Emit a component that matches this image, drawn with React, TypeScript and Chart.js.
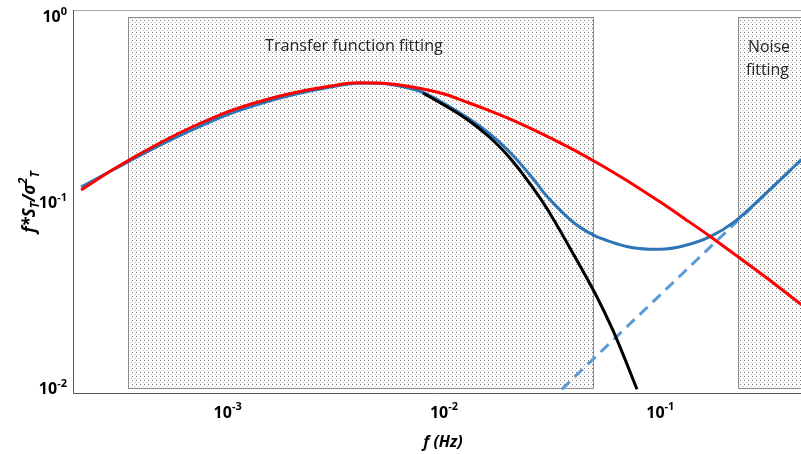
import React, { useEffect, useRef } from "react";
import { Chart, registerables } from "chart.js";

Chart.register(...registerables);

// ---- Data ----
const freqs = [2.1e-4, 3e-4, 5e-4, 7e-4, 1e-3, 1.5e-3, 2e-3, 3e-3, 4e-3, 5e-3, 6e-3, 8e-3, 0.01, 0.013, 0.016, 0.02, 0.025, 0.03, 0.04, 0.05, 0.06, 0.07, 0.08, 0.1, 0.13, 0.17, 0.22, 0.3, 0.45];
const redValues = [0.1167, 0.1524, 0.2128, 0.2578, 0.3074, 0.357, 0.3883, 0.4235, 0.4398, 0.4385, 0.4304, 0.4076, 0.3831, 0.3439, 0.3138, 0.2822, 0.2508, 0.2266, 0.1911, 0.1655, 0.1464, 0.1313, 0.119, 0.1005, 0.0816, 0.0657, 0.0528, 0.0405, 0.0282];
const blueValues = [0.1212, 0.1514, 0.2063, 0.2484, 0.2972, 0.3469, 0.3793, 0.4178, 0.4374, 0.4379, 0.4266, 0.3903, 0.3405, 0.2829, 0.2378, 0.188, 0.1405, 0.1077, 0.0776, 0.0661, 0.0611, 0.058, 0.0566, 0.056, 0.0587, 0.0655, 0.0787, 0.109, 0.1703];
const blackFreqs = [0.008, 0.01, 0.013, 0.016, 0.02, 0.025, 0.03, 0.04, 0.05, 0.06, 0.07, 0.078];
const blackValues = [0.388, 0.3343, 0.276, 0.2278, 0.1757, 0.1258, 0.0923, 0.0519, 0.0324, 0.0209, 0.0136, 0.0099];
const noiseFreqs = [0.035, 0.05, 0.07, 0.1, 0.13, 0.17, 0.22, 0.3, 0.45];
const noiseValues = [0.0099, 0.01473, 0.02144, 0.0319, 0.0427, 0.0576, 0.0767, 0.1083, 0.1703];

const xTickValues = [1e-3, 1e-2, 1e-1];
const xTickExps = ["-3", "-2", "-1"];
const yTickValues = [1, 0.1, 0.01];
const yTickExps = ["0", "-1", "-2"];

const regionNames = [["Transfer function fitting"], ["Noise", "fitting"]];
const regionFrom = [3.46e-4, 0.2286];
const regionTo = [0.0489, 1];
const regionLow = 0.0101;
const regionHigh = 0.99;

const FONT = '"Open Sans", "DejaVu Sans", sans-serif';

type Seg = { t: string; k: "n" | "sup" | "sub" };

function drawRich(ctx: CanvasRenderingContext2D, segs: Seg[], x: number, y: number, size: number, style: string, align: "left" | "center" | "right") {
  const small = Math.round(size * 0.68);
  let w = 0;
  const parts = segs.map((s) => {
    const fs = s.k === "n" ? size : small;
    ctx.font = `${style} ${fs}px ${FONT}`;
    const mw = ctx.measureText(s.t).width;
    w += mw;
    return { ...s, fs, mw };
  });
  let cx = align === "center" ? x - w / 2 : align === "right" ? x - w : x;
  ctx.textAlign = "left";
  ctx.textBaseline = "middle";
  parts.forEach((p) => {
    ctx.font = `${style} ${p.fs}px ${FONT}`;
    const dy = p.k === "sup" ? -size * 0.36 : p.k === "sub" ? size * 0.3 : 0;
    ctx.fillText(p.t, cx, y + dy);
    cx += p.mw;
  });
}

function makePattern(ctx: CanvasRenderingContext2D) {
  const c = document.createElement("canvas");
  c.width = 4;
  c.height = 4;
  const p = c.getContext("2d")!;
  p.fillStyle = "#ffffff";
  p.fillRect(0, 0, 4, 4);
  p.fillStyle = "rgb(218,218,218)";
  p.fillRect(2, 2, 2, 1);
  p.fillStyle = "rgb(120,120,120)";
  p.fillRect(0, 0, 1, 1);
  return ctx.createPattern(c, "repeat")!;
}

function fitFont(ctx: CanvasRenderingContext2D, text: string, target: number) {
  ctx.font = `16px ${FONT}`;
  const w = ctx.measureText(text).width;
  return (16 * target) / w;
}

const decorPlugin = {
  id: "decor",
  beforeDatasetsDraw(chart: any) {
    const { ctx, chartArea } = chart;
    const x = chart.scales.x;
    const y = chart.scales.y;
    ctx.save();
    ctx.beginPath();
    ctx.rect(chartArea.left, chartArea.top - 2, chartArea.right - chartArea.left + 2, chartArea.bottom - chartArea.top + 4);
    ctx.clip();
    const pat = makePattern(ctx);
    const yTop = Math.round(y.getPixelForValue(regionHigh)) + 0.5;
    const yBot = Math.round(y.getPixelForValue(regionLow)) + 0.5;
    regionNames.forEach((_, i) => {
      const x0 = Math.round(x.getPixelForValue(regionFrom[i])) + 0.5;
      const x1 = Math.round(x.getPixelForValue(regionTo[i])) + 0.5;
      ctx.fillStyle = pat;
      ctx.fillRect(x0, yTop, x1 - x0, yBot - yTop);
      ctx.strokeStyle = "#8c8c8c";
      ctx.lineWidth = 1;
      ctx.strokeRect(x0, yTop, x1 - x0, yBot - yTop);
    });
    // region labels
    ctx.fillStyle = "#262626";
    ctx.textBaseline = "middle";
    ctx.textAlign = "left";
    {
      const x0 = x.getPixelForValue(regionFrom[0]);
      const s = fitFont(ctx, regionNames[0][0], 178);
      ctx.font = `${s}px ${FONT}`;
      ctx.fillText(regionNames[0][0], x0 + 137, 46);
    }
    {
      const x0 = x.getPixelForValue(regionFrom[1]);
      const s = fitFont(ctx, regionNames[1][0], 42);
      ctx.font = `${s}px ${FONT}`;
      ctx.fillText(regionNames[1][0], x0 + 10, 47);
      ctx.fillText(regionNames[1][1], x0 + 8, 70);
    }
    ctx.restore();

    // axis frame
    ctx.save();
    ctx.lineWidth = 1;
    ctx.strokeStyle = "#a6a6a6";
    ctx.beginPath();
    ctx.moveTo(chartArea.left, chartArea.top + 0.5);
    ctx.lineTo(chartArea.right, chartArea.top + 0.5);
    ctx.stroke();
    ctx.strokeStyle = "#595959";
    ctx.beginPath();
    ctx.moveTo(chartArea.left + 0.5, chartArea.top);
    ctx.lineTo(chartArea.left + 0.5, chartArea.bottom + 0.5);
    ctx.lineTo(chartArea.right, chartArea.bottom + 0.5);
    ctx.stroke();
    ctx.restore();
  },
  afterDraw(chart: any) {
    const { ctx } = chart;
    const x = chart.scales.x;
    const y = chart.scales.y;
    ctx.save();
    ctx.fillStyle = "#000000";
    xTickValues.forEach((v, i) => {
      drawRich(ctx, [{ t: "10", k: "n" }, { t: xTickExps[i], k: "sup" }], x.getPixelForValue(v), 413, 16, "bold", "center");
    });
    yTickValues.forEach((v, i) => {
      drawRich(ctx, [{ t: "10", k: "n" }, { t: yTickExps[i], k: "sup" }], 67, y.getPixelForValue(v) + 1, 16, "bold", "right");
    });
    // x title
    drawRich(ctx, [{ t: "f (Hz)", k: "n" }], 443, 442, 16, "italic bold", "center");
    // y title
    ctx.translate(30, 202);
    ctx.rotate(-Math.PI / 2);
    drawRich(
      ctx,
      [
        { t: "f*S", k: "n" },
        { t: "T", k: "sub" },
        { t: "/σ", k: "n" },
        { t: "2", k: "sup" },
        { t: "T", k: "sub" },
      ],
      0,
      0,
      17,
      "italic bold",
      "center"
    );
    ctx.restore();
  },
};

export default function App() {
  const ref = useRef<HTMLCanvasElement>(null);
  useEffect(() => {
    document.body.style.margin = "0";
    const pts = (xs: number[], ys: number[]) => xs.map((f, i) => ({ x: f, y: ys[i] }));
    const common = { borderWidth: 3, pointRadius: 0, cubicInterpolationMode: "monotone", fill: false };
    const chart = new Chart(ref.current!, {
      type: "line",
      data: {
        datasets: [
          { label: "model", data: pts(freqs, redValues), borderColor: "#ff0000", ...common },
          { label: "attenuated", data: pts(blackFreqs, blackValues), borderColor: "#000000", ...common },
          { label: "measured", data: pts(freqs, blueValues), borderColor: "#2e75b6", ...common },
          { label: "noise", data: pts(noiseFreqs, noiseValues), borderColor: "#5b9bd5", borderDash: [11, 7], ...common },
        ],
      } as any,
      options: {
        animation: false,
        responsive: false,
        devicePixelRatio: 1,
        layout: { padding: { left: 73, top: 10, right: 0, bottom: 61 } },
        plugins: { legend: { display: false }, tooltip: { enabled: false } },
        scales: {
          x: { type: "logarithmic", display: false, min: 1.927e-4, max: 0.4472 },
          y: { type: "logarithmic", display: false, min: 0.009459, max: 1.0838 },
        },
      } as any,
      plugins: [decorPlugin],
    });
    return () => chart.destroy();
  }, []);
  return (
    <div style={{ position: "absolute", left: 0, top: 0, width: 801, height: 454, background: "#fff" }}>
      <canvas ref={ref} width={801} height={454} style={{ display: "block" }} />
    </div>
  );
}
